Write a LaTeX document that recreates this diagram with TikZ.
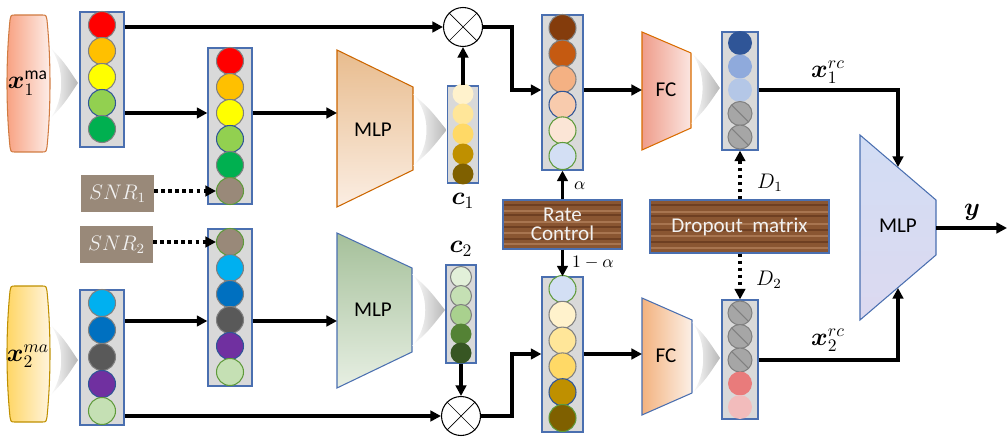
\documentclass[tikz,border=0pt]{standalone}
\usepackage{fontspec}
\setmainfont{Carlito}
\usepackage{amsmath,bm}
\usetikzlibrary{arrows.meta, positioning, calc}

% colours
\definecolor{colFill}{HTML}{D9D9D9}
\definecolor{colEdge}{HTML}{4A6FB0}
\definecolor{eGray}{HTML}{808080}
\definecolor{eBlue}{HTML}{2F5597}
\definecolor{eGreen}{HTML}{5E9A3A}
\definecolor{cRed}{HTML}{FF0000}
\definecolor{cOrange}{HTML}{FFC000}
\definecolor{cYellow}{HTML}{FFFF00}
\definecolor{cLime}{HTML}{92D050}
\definecolor{cGreen}{HTML}{00B050}
\definecolor{cNoise}{HTML}{998979}
\definecolor{cCyan}{HTML}{00B0F0}
\definecolor{cBlue}{HTML}{0070C0}
\definecolor{cDark}{HTML}{595959}
\definecolor{cPurple}{HTML}{7030A0}
\definecolor{cMint}{HTML}{C5E0B4}
\definecolor{cGold1}{HTML}{FFF2CC}
\definecolor{cGold2}{HTML}{FFE699}
\definecolor{cGold3}{HTML}{FFD966}
\definecolor{cGold4}{HTML}{BF9000}
\definecolor{cGold5}{HTML}{7F6000}
\definecolor{cSage1}{HTML}{E2F0D9}
\definecolor{cSage3}{HTML}{A9D18E}
\definecolor{cSage4}{HTML}{548235}
\definecolor{cSage5}{HTML}{375623}
\definecolor{cRust1}{HTML}{843C0C}
\definecolor{cRust2}{HTML}{C55A11}
\definecolor{cRust3}{HTML}{F4B183}
\definecolor{cRust4}{HTML}{F8CBAD}
\definecolor{cRust5}{HTML}{FBE5D6}
\definecolor{cSky}{HTML}{D3DFF4}
\definecolor{cNavy}{HTML}{2F5597}
\definecolor{cNavy2}{HTML}{8FAADC}
\definecolor{cNavy3}{HTML}{B4C7E7}
\definecolor{cOff}{HTML}{A6A6A6}
\definecolor{cRose1}{HTML}{E97B7B}
\definecolor{cRose2}{HTML}{F2BCBC}
\definecolor{woodA}{HTML}{8A5632}
\definecolor{woodB}{HTML}{6E3F22}
\definecolor{woodC}{HTML}{A87550}
\definecolor{in1L}{HTML}{F8A080}
\definecolor{in1R}{HTML}{FDEFEA}
\definecolor{in2L}{HTML}{FFD562}
\definecolor{in2R}{HTML}{FFF5E0}
\definecolor{mlp1T}{HTML}{E8BC8E}
\definecolor{mlp1B}{HTML}{FBEEE3}
\definecolor{mlp2T}{HTML}{A5C09A}
\definecolor{mlp2B}{HTML}{E7EFE3}
\definecolor{fc1L}{HTML}{EF9C8A}
\definecolor{fc1R}{HTML}{FBE6E1}
\definecolor{fc2L}{HTML}{F3B27F}
\definecolor{fc2R}{HTML}{FCF0E6}
\definecolor{mlp3T}{HTML}{D2DDF4}
\definecolor{mlp3B}{HTML}{DCD9F0}

\begin{document}
\begin{tikzpicture}[x=0.02cm, y=-0.02cm,
        % neuron column
        colbox/.style={
                rectangle,
                draw=colEdge,
                fill=colFill,
                line width=0.7pt,
                inner sep=0pt
            },
        % one neuron
        neuron/.style={
                circle,
                inner sep=0pt,
                minimum size=#1,
                line width=0.6pt
            },
        % dropped neuron
        dropped/.style={
                neuron=#1,
                fill=cOff,
                draw=eGray,
                path picture={\draw[line width=0.6pt] ([shift={(2pt,-2pt)}]path picture bounding box.north west) -- ([shift={(-2pt,2pt)}]path picture bounding box.south east);}
            },
        % arrows
        arr/.style={-{Triangle[length=6pt,width=6pt]}, line width=1.8pt},
        dotarr/.style={arr, line width=2pt, dash pattern=on 2pt off 2pt},
        % product
        mul/.style={
                circle,
                draw,
                fill=white,
                minimum size=0.78cm,
                inner sep=0pt,
                line width=0.6pt
            },
        % wooden box
        wood/.style={
                rectangle,
                draw=colEdge,
                fill=woodA,
                text=white!95!black,
                font=\large,
                align=center,
                inner sep=0pt,
                line width=0.7pt,
                path picture={\foreach \k/\w in {0.1/woodB,0.22/woodC,0.31/woodB,0.45/woodC,0.56/woodB,0.68/woodC,0.8/woodB,0.9/woodC}
                        \draw[\w, line width=1.2pt] ($(path picture bounding box.north west)!\k!(path picture bounding box.south west)$) -- ++(5cm,0);}
            },
        % noise box
        noisy/.style={rectangle, fill=cNoise, text=white!95!black, font=\large, inner sep=0pt},
        block/.style={font=\large},
        lbl/.style={font=\Large},
        % fading arrow
        pics/fadearrow/.style={code={
                \shade[left color=white, right color=black!28] (0,-36) .. controls (14,-21) .. (28,0) .. controls (14,21) .. (0,36) .. controls (15,16) and (15,-16) .. (0,-36) -- cycle;
            }}
    ]
    \useasboundingbox (0,0) rectangle (1008,439);

    % INPUTS
    \draw[draw=cRust2!80, left color=in1L, right color=in1R, line width=0.6pt]
    (15,15) -- (42,15) .. controls (46,15) .. (47,20) .. controls (51,60) and (51,107) .. (47,147) .. controls (46,152) .. (42,152)
    -- (15,152) .. controls (11,152) .. (10,147) .. controls (6,107) and (6,60) .. (10,20) .. controls (11,15) .. (15,15) -- cycle;
    \node[lbl] (in1) at (28,83) {$\bm{x}_1^{\mathrm{ma}}$};
    \draw[draw=cGold4, left color=in2L, right color=in2R, line width=0.6pt]
    (15,286) -- (42,286) .. controls (46,286) .. (47,291) .. controls (51,331) and (51,377) .. (47,417) .. controls (46,422) .. (42,422)
    -- (15,422) .. controls (11,422) .. (10,417) .. controls (6,377) and (6,331) .. (10,291) .. controls (11,286) .. (15,286) -- cycle;
    \node[lbl] (in2) at (28,356) {$\bm{x}_2^{ma}$};
    \pic at (50,83) {fadearrow};
    \pic at (50,360) {fadearrow};

    % FIRST COLUMNS
    \node[colbox, minimum width=0.88cm, minimum height=2.7cm] (A1) at (102,79.5) {};
    \foreach \f/\d [count=\i] in {cRed/eGray,cOrange/eGray,cYellow/eGray,cLime/eBlue,cGreen/eGray}
    \node[neuron=0.54cm, fill=\f, draw=\d] (A1-\i) at (102,{-1+26*\i}) {};
    \node[colbox, minimum width=0.88cm, minimum height=2.7cm] (A2) at (102,357.5) {};
    \foreach \f/\d [count=\i] in {cCyan/eGray,cBlue/eGray,cDark/eGray,cPurple/eBlue,cMint/eGreen}
    \node[neuron=0.54cm, fill=\f, draw=\d] (A2-\i) at (102,{276+27*\i}) {};

    % SNR
    \node[noisy, minimum width=1.46cm, minimum height=0.74cm] (snr1) at (117.5,193.5) {$SNR_1$};
    \node[noisy, minimum width=1.46cm, minimum height=0.74cm] (snr2) at (116.5,244.5) {$SNR_2$};

    % SECOND COLUMNS
    \node[colbox, minimum width=0.88cm, minimum height=3.12cm] (B1) at (230,126) {};
    \foreach \f/\d [count=\i] in {cRed/eGray,cOrange/eGray,cYellow/eGray,cLime/eBlue,cGreen/eGray,cNoise/eGreen}
    \node[neuron=0.54cm, fill=\f, draw=\d] (B1-\i) at (230,{35+26*\i}) {};
    \node[colbox, minimum width=0.88cm, minimum height=3.14cm] (B2) at (230,307.5) {};
    \foreach \f/\d [count=\i] in {cNoise/eGreen,cCyan/eGray,cBlue/eGray,cDark/eGray,cPurple/eBlue,cMint/eGreen}
    \node[neuron=0.54cm, fill=\f, draw=\d] (B2-\i) at (230,{216+26*\i}) {};

    % MLPs
    \draw[draw=orange!80!black, top color=mlp1T, bottom color=mlp1B, line width=0.6pt]
    (337,50) -- (413,87) -- (413,170) -- (337,207) -- cycle;
    \node[block] (mlp1) at (373,130) {MLP};
    \coordinate (mlp1in) at (337,113);
    \draw[draw=colEdge, top color=mlp2T, bottom color=mlp2B, line width=0.6pt]
    (337,233) -- (412,268) -- (412,352) -- (337,388) -- cycle;
    \node[block] (mlp2) at (373,310) {MLP};
    \coordinate (mlp2in) at (337,321);
    \pic[xscale=1.2] at (413,130) {fadearrow};
    \pic[xscale=1.18] at (412,310) {fadearrow};

    % CONTEXT VECTORS
    \node[colbox, minimum width=0.62cm, minimum height=1.94cm] (C1) at (463,134.5) {};
    \foreach \f [count=\i] in {cGold1,cGold2,cGold3,cGold4,cGold5}
    \node[neuron=0.42cm, fill=\f] (C1-\i) at (463,{74+20*\i}) {};
    \node[lbl, below=2pt of C1] (c1) {$\bm{c}_1$};
    \node[colbox, minimum width=0.6cm, minimum height=1.96cm] (C2) at (461,314) {};
    \foreach \f/\d [count=\i] in {cSage1/eGray,cMint/eGray,cSage3/eGray,cSage4/none,cSage5/none}
    \node[neuron=0.42cm, fill=\f, draw=\d] (C2-\i) at (461,{258+19*\i}) {};
    \node[lbl, above=1pt of C2] (c2) {$\bm{c}_2$};

    % PRODUCTS
    \node[mul] (mul1) at (463,27) {};
    \draw (mul1.45) -- (mul1.225) (mul1.135) -- (mul1.315);
    \node[mul] (mul2) at (461,416) {};
    \draw (mul2.45) -- (mul2.225) (mul2.135) -- (mul2.315);
    \coordinate (j1) at (512,90);
    \coordinate (j2) at (512,354);

    % RATE CONTROL
    \node[colbox, minimum width=0.82cm, minimum height=3.1cm] (R1) at (562.5,92.5) {};
    \foreach \f/\d [count=\i] in {cRust1/eGray,cRust2/eGray,cRust3/eGray,cRust4/eBlue,cRust5/eGreen,cSky/eGreen}
    \node[neuron=0.54cm, fill=\f, draw=\d] (R1-\i) at (562.5,{2.4+25.6*\i}) {};
    \node[colbox, minimum width=0.82cm, minimum height=3.1cm] (R2) at (562.5,354.5) {};
    \foreach \f/\d [count=\i] in {cSky/eGreen,cGold1/eGray,cGold2/eGray,cGold3/eGray,cGold4/eBlue,cGold5/eGreen}
    \node[neuron=0.54cm, fill=\f, draw=\d] (R2-\i) at (562.5,{263.2+25.8*\i}) {};
    \node[wood, minimum width=2.38cm, minimum height=0.98cm] (rate) at (562.5,224.5) {Rate\\[-3pt]Control};

    % FC
    \draw[draw=orange!85!black, left color=fc1L, right color=fc1R, line width=0.6pt]
    (642,32) -- (691,53) -- (691,128) -- (642,150) -- cycle;
    \node[block] (fc1) at (666,90) {FC};
    \coordinate (fc1in) at (642,90);
    \draw[draw=colEdge, left color=fc2L, right color=fc2R, line width=0.6pt]
    (642,298) -- (692,320) -- (692,393) -- (642,415) -- cycle;
    \node[block] (fc2) at (666,356) {FC};
    \coordinate (fc2in) at (642,354);
    \pic[xscale=1.03] at (691,88) {fadearrow};
    \pic[xscale=1.0] at (692,358) {fadearrow};

    % DROPOUT
    \node[colbox, minimum width=0.72cm, minimum height=2.36cm] (D1) at (740,91) {};
    \foreach \f [count=\i] in {cNavy,cNavy2,cNavy3}
    \node[neuron=0.48cm, fill=\f] (D1-\i) at (740,{19.5+23.5*\i}) {};
    \foreach \i in {4,5}
    \node[dropped=0.48cm] (D1-\i) at (740,{19.5+23.5*\i}) {};
    \node[colbox, minimum width=0.72cm, minimum height=2.38cm] (D2) at (740,359.5) {};
    \foreach \i in {1,2,3}
    \node[dropped=0.48cm] (D2-\i) at (740,{289.5+23.5*\i}) {};
    \node[neuron=0.48cm, fill=cRose1] (D2-4) at (740,{289.5+23.5*4}) {};
    \node[neuron=0.48cm, fill=cRose2] (D2-5) at (740,{289.5+23.5*5}) {};
    \node[wood, minimum width=3.58cm, minimum height=1.06cm] (drop) at (739.5,226.5) {Dropout\ \ matrix};

    % FINAL MLP
    \draw[draw=colEdge, top color=mlp3T, bottom color=mlp3B, line width=0.6pt]
    (860,135) -- (936,200) -- (936,255) -- (860,320) -- cycle;
    \node[block] (mlp3) at (898,226) {MLP};
    \coordinate (mlp3top) at (898,167);
    \coordinate (mlp3bot) at (898,288);
    \coordinate (mlp3out) at (936,228);
    \coordinate (out) at (1007,228);

    % CONNECTIONS
    \draw[arr] (A1.east |- mul1) -- (mul1);
    \draw[arr] (A1.east |- B1-3) -- (B1.west |- B1-3);
    \draw[arr] (B1.east |- mlp1in) -- (mlp1in);
    \draw[dotarr] (snr1.east |- B1-6) -- (B1-6);
    \draw[arr] (C1.north) -- (mul1.south);
    \draw[arr] (mul1.east) -| (j1) -- (R1.west |- j1);
    \draw[arr] (R1.east |- fc1in) -- (fc1in);

    \draw[arr] (A2.east |- mul2) -- (mul2);
    \draw[arr] (A2.east |- mlp2in) -- (B2.west |- mlp2in);
    \draw[arr] (B2.east |- mlp2in) -- (mlp2in);
    \draw[dotarr] (snr2.east |- B2-1) -- (B2-1);
    \draw[arr] (C2.south) -- (mul2.north);
    \draw[arr] (mul2.east) -| (j2) -- (R2.west |- j2);
    \draw[arr] (R2.east |- fc2in) -- (fc2in);

    \draw[arr] (rate.north) -- (R1.south);
    \node[anchor=west] (alpha) at (568,186) {$\alpha$};
    \draw[arr] (rate.south) -- (R2.north);
    \node[anchor=west] (beta) at (566,263) {$1-\alpha$};

    \draw[dotarr] (drop.north -| D1) -- (D1.south);
    \node[anchor=west, font=\large] (d1) at (751,183) {$D_1$};
    \draw[dotarr] (drop.south -| D2) -- (D2.north);
    \node[anchor=west, font=\large] (d2) at (750,280) {$D_2$};

    \draw[arr] (D1.east |- D1-3) -| (mlp3top);
    \node[lbl] (x1rc) at (828,72) {$\bm{x}_1^{rc}$};
    \draw[arr] (D2.east |- D2-3) -| (mlp3bot);
    \node[lbl] (x2rc) at (828,340) {$\bm{x}_2^{rc}$};
    \draw[arr] (mlp3out) -- (out);
    \node[lbl] (y) at (972,212) {$\bm{y}$};

\end{tikzpicture}
\end{document}
